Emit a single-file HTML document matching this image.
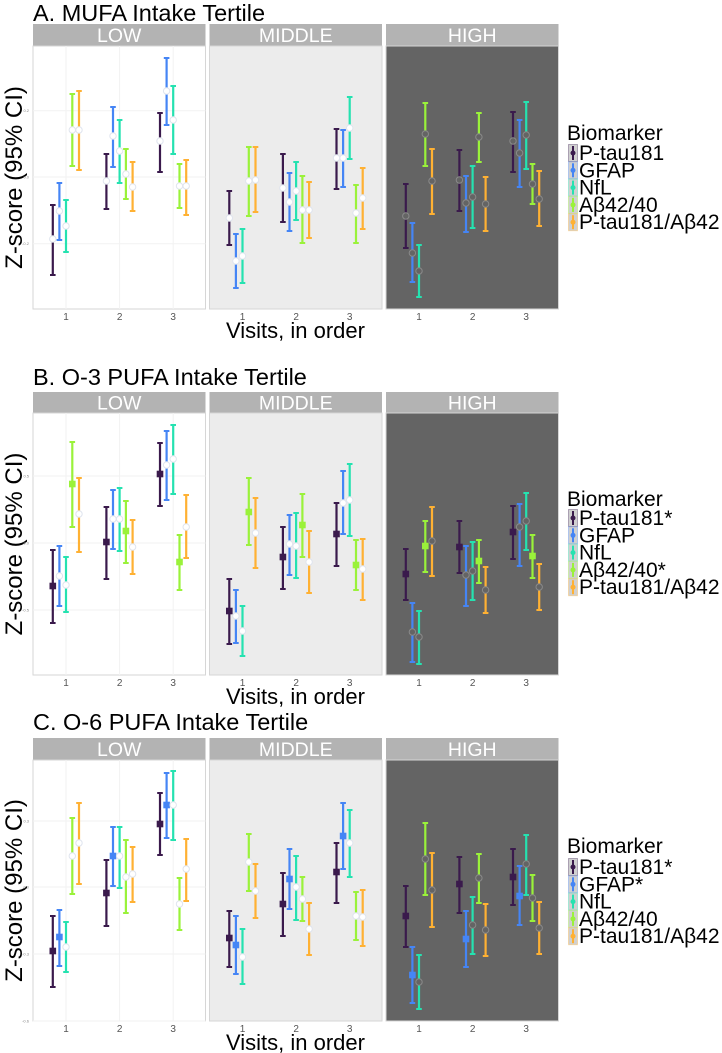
<!DOCTYPE html>
<html><head><meta charset="utf-8"><style>
html,body{margin:0;padding:0;background:#fff;}
svg{display:block;font-family:"Liberation Sans",Arial,sans-serif;}
</style></head><body>
<svg id="s" width="722" height="1053" xmlns="http://www.w3.org/2000/svg"></svg>
<script>
const C=['#3a1a4c','#4585f5','#25e2b0','#9af23a','#ffb133'];
const PX=[33,209.5,386],PW=172.5;
const OFF=[-13.2,-6.6,0,6.3,13];
const P=[
{t:"A. MUFA Intake Tertile",ty:13,s0:24,s1:46,b:309,sq:[],leg:["P-tau181","GFAP","NfL","Aβ42/40","P-tau181/Aβ42"],ly:133,i0:153,yt:[[110.7,"0.2"],[177,"0.0"],[243.7,"-0.2"]],
d:[
[[[239,205,275],[211,183,240],[226,200,252],[130,94,166],[130,91,170]],
 [[181,154,209],[136,107,167],[151,120,183],[174,149,199],[187,162,211]],
 [[141,113,172],[91,58,125],[120,86,154],[186,164,208],[186,160,215]]],
[[[218,191,245],[261,234,288],[256,229,283],[181,147,216],[180,147,212]],
 [[188,154,222],[202,173,231],[191,162,220],[210,176,243],[210,182,238]],
 [[158,129,189],[158,130,187],[128,97,159],[213,185,243],[198,168,229]]],
[[[216,184,248],[253,223,282],[271,245,297],[134,103,166],[181,149,214]],
 [[180,150,211],[203,176,232],[197,166,228],[137,113,162],[204,177,231]],
 [[141,112,172],[153,120,187],[135,102,169],[184,164,204],[199,171,226]]]]},
{t:"B. O-3 PUFA Intake Tertile",ty:377,s0:392,s1:413,b:675,sq:[0,3],leg:["P-tau181*","GFAP","NfL","Aβ42/40*","P-tau181/Aβ42"],ly:499,i0:518,yt:[[476,"0.5"],[543,"0.0"],[610,"-0.5"]],
d:[
[[[586,550,623],[576,546,606],[585,557,612],[484,442,527],[514,478,552]],
 [[542,507,579],[519,490,549],[519,488,551],[531,501,563],[547,520,574]],
 [[474,443,506],[465,431,500],[459,425,494],[562,535,590],[527,495,558]]],
[[[611,579,644],[616,590,643],[631,606,656],[512,478,545],[533,498,568]],
 [[557,527,589],[544,515,575],[546,513,578],[525,494,557],[562,531,593]],
 [[534,503,566],[503,471,534],[500,464,536],[565,540,590],[569,539,600]]],
[[[574,549,600],[632,603,662],[637,611,664],[546,521,572],[541,507,576]],
 [[547,521,573],[575,546,606],[571,542,600],[561,540,583],[590,567,613]],
 [[532,506,559],[527,504,566],[521,493,550],[556,535,578],[587,564,610]]]]},
{t:"C. O-6 PUFA Intake Tertile",ty:722,s0:738,s1:760,b:1021,sq:[0,1],leg:["P-tau181*","GFAP*","NfL","Aβ42/40","P-tau181/Aβ42"],ly:846,i0:867,yt:[[821,"0.3"],[887,"0.0"],[954,"-0.3"],[1021,"-0.6"]],
d:[
[[[951,916,987],[937,910,966],[947,922,972],[856,818,894],[843,803,884]],
 [[893,860,926],[856,827,886],[856,827,888],[877,840,913],[874,847,902]],
 [[824,793,855],[805,773,838],[805,771,840],[904,878,930],[869,839,901]]],
[[[938,911,967],[945,916,974],[957,929,984],[862,834,891],[891,864,918]],
 [[904,873,936],[879,849,909],[887,856,920],[899,877,921],[929,903,955]],
 [[872,843,903],[836,803,869],[843,810,877],[916,892,940],[917,890,946]]],
[[[916,886,947],[975,947,1003],[982,955,1009],[859,823,895],[890,853,927]],
 [[884,857,913],[939,911,967],[925,897,954],[878,854,903],[930,904,956]],
 [[877,849,905],[896,866,925],[864,835,895],[898,875,921],[928,902,954]]]]}
];
const BG=['#ffffff','#ececec','#646464'],LAB=['LOW','MIDDLE','HIGH'];
let h='';
for(const p of P){
 h+=`<text x="33" y="${p.ty+8}" font-size="23.5" fill="#000">${p.t}</text>`;
 const mid=(p.s1+p.b)/2;
 h+=`<text transform="translate(22,${mid}) rotate(-90)" text-anchor="middle" font-size="24" fill="#000">Z-score (95% CI)</text>`;
 for(const [y,l] of p.yt) h+=`<text x="29" y="${y+1.5}" text-anchor="end" font-size="4" fill="#888">${l}</text>`;
 for(let k=0;k<3;k++){
  const x0=PX[k];
  h+=`<rect x="${x0}" y="${p.s0}" width="${PW}" height="${p.s1-p.s0}" fill="#b3b3b3"/>`;
  h+=`<text x="${x0+PW/2}" y="${(p.s0+p.s1)/2+7}" text-anchor="middle" font-size="19.5" fill="#fff">${LAB[k]}</text>`;
  h+=`<rect x="${x0}" y="${p.s1}" width="${PW}" height="${p.b-p.s1}" fill="${BG[k]}" stroke="#d6d6d6" stroke-width="1"/>`;
  if(k==0){for(const [y] of p.yt) h+=`<line x1="${x0}" x2="${x0+PW}" y1="${y}" y2="${y}" stroke="#f2f2f2"/>`;
   for(let v=0;v<3;v++) h+=`<line x1="${x0+33+53.6*v}" x2="${x0+33+53.6*v}" y1="${p.s1}" y2="${p.b}" stroke="#f2f2f2"/>`;}
  for(let v=0;v<3;v++){
   const cx=x0+33+53.6*v;
   h+=`<text x="${cx}" y="${p.b+11}" text-anchor="middle" font-size="10" fill="#555">${v+1}</text>`;
   for(let s=0;s<5;s++){
    const [c,hi,lo]=p.d[k][v][s],x=cx+OFF[s],col=C[s];
    h+=`<line x1="${x}" x2="${x}" y1="${hi}" y2="${lo}" stroke="${col}" stroke-width="2.2"/>`;
    h+=`<line x1="${x-2.8}" x2="${x+2.8}" y1="${hi}" y2="${hi}" stroke="${col}" stroke-width="2"/>`;
    h+=`<line x1="${x-2.8}" x2="${x+2.8}" y1="${lo}" y2="${lo}" stroke="${col}" stroke-width="2"/>`;
    if(p.sq.includes(s)) h+=`<rect x="${x-3.3}" y="${c-3.3}" width="6.6" height="6.6" fill="${col}"/>`;
    else h+=`<circle cx="${x}" cy="${c}" r="3.2" fill="${k==2?'#646464':'#fff'}" stroke="${k==2?'#8a8a8a':'#dfe4ee'}" stroke-width="1"/>`;
   }
  }
 }
 h+=`<text x="${(33+558)/2}" y="${p.b+29}" text-anchor="middle" font-size="22" fill="#000">Visits, in order</text>`;
 h+=`<text x="567" y="${p.ly+7}" font-size="21" fill="#000">Biomarker</text>`;
 for(let s=0;s<5;s++){
  const y=p.i0+s*17.3;
  h+=`<rect x="568.5" y="${y-8.5}" width="9" height="17" fill="#d0d0d0" stroke="${C[s]}" stroke-opacity="0.35"/>`;
  h+=`<line x1="573" x2="573" y1="${y-7}" y2="${y+7}" stroke="${C[s]}" stroke-width="2"/>`;
  h+=`<circle cx="573" cy="${y}" r="2.5" fill="${C[s]}"/>`;
  h+=`<text x="579" y="${y+7}" font-size="21" fill="#000">${p.leg[s]}</text>`;
 }
}
document.getElementById('s').innerHTML=h;
</script>
</body></html>
